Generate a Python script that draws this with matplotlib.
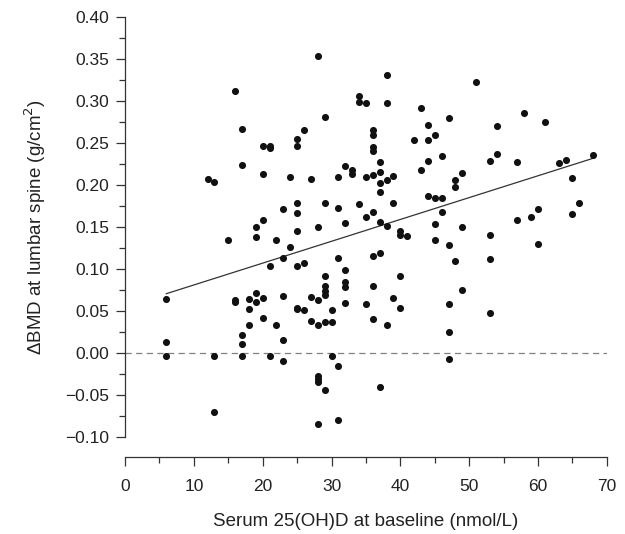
import matplotlib
matplotlib.use("Agg")
import matplotlib.pyplot as plt
import numpy as np
from matplotlib.ticker import MultipleLocator

plt.rcParams.update({
    "font.family": ["Liberation Sans", "DejaVu Sans"],
    "font.size": 12.5,
    "axes.linewidth": 0.9,
    "xtick.direction": "out", "ytick.direction": "out",
})

# serum 25(OH)D at baseline (nmol/L) and change in lumbar spine BMD (g/cm2)
vitd = [
    6, 6, 6,
    12,
    13, 13, 13,
    15,
    16, 16, 16,
    17, 17, 17, 17, 17,
    18, 18, 18,
    19, 19, 19, 19,
    20, 20, 20, 20, 20,
    21, 21, 21, 21,
    22, 22,
    23, 23, 23, 23, 23,
    24, 24,
    25, 25, 25, 25, 25, 25, 25, 25,
    26, 26, 26,
    27, 27, 27,
    28, 28, 28, 28, 28, 28, 28, 28,
    29, 29, 29, 29, 29, 29, 29, 29,
    30, 30, 30,
    31, 31, 31, 31, 31,
    32, 32, 32, 32, 32, 32,
    33, 33,
    34, 34, 34,
    35, 35, 35, 35,
    36, 36, 36, 36, 36, 36, 36, 36, 36,
    37, 37, 37, 37, 37, 37, 37,
    38, 38, 38, 38, 38,
    39, 39, 39,
    40, 40, 40, 40,
    41,
    42,
    43, 43,
    44, 44, 44, 44,
    45, 45, 45, 45,
    46, 46, 46,
    47, 47, 47, 47, 47,
    48, 48, 48,
    49, 49, 49,
    51,
    53, 53, 53, 53,
    54, 54,
    57, 57,
    58,
    59,
    60, 60,
    61,
    63,
    64,
    65, 65,
    66,
    68,
]
dbmd = [
    0.064, 0.013, -0.004,
    0.207,
    0.204, -0.004, -0.070,
    0.135,
    0.312, 0.063, 0.061,
    0.267, 0.224, 0.021, 0.011, -0.004,
    0.064, 0.052, 0.033,
    0.150, 0.138, 0.072, 0.061,
    0.247, 0.213, 0.158, 0.065, 0.042,
    0.247, 0.244, 0.104, -0.004,
    0.135, 0.033,
    0.171, 0.113, 0.068, 0.015, -0.010,
    0.210, 0.126,
    0.255, 0.247, 0.179, 0.167, 0.145, 0.103, 0.054, 0.052,
    0.265, 0.107, 0.051,
    0.207, 0.067, 0.038,
    0.354, 0.150, 0.063, 0.033, -0.027, -0.031, -0.034, -0.084,
    0.281, 0.178, 0.092, 0.080, 0.074, 0.069, 0.037, -0.044,
    0.051, 0.037, -0.004,
    0.210, 0.173, 0.113, -0.015, -0.080,
    0.223, 0.155, 0.099, 0.085, 0.079, 0.060,
    0.218, 0.213,
    0.306, 0.299, 0.177,
    0.298, 0.209, 0.162, 0.058,
    0.265, 0.260, 0.245, 0.241, 0.212, 0.168, 0.116, 0.080, 0.040,
    0.227, 0.215, 0.202, 0.192, 0.156, 0.119, -0.040,
    0.331, 0.298, 0.206, 0.151, 0.033,
    0.211, 0.179, 0.066,
    0.145, 0.140, 0.092, 0.054,
    0.139,
    0.253,
    0.292, 0.218,
    0.272, 0.253, 0.228, 0.187,
    0.260, 0.185, 0.153, 0.135,
    0.235, 0.184, 0.168,
    0.280, 0.128, 0.058, 0.025, -0.007,
    0.206, 0.198, 0.109,
    0.214, 0.150, 0.075,
    0.323,
    0.228, 0.140, 0.112, 0.048,
    0.270, 0.237,
    0.227, 0.158,
    0.286,
    0.162,
    0.172, 0.130,
    0.275,
    0.226,
    0.230,
    0.208, 0.165,
    0.179,
    0.236,
]

# fitted regression line
fit_intercept = 0.055
fit_slope = 0.0026
fit_range = [6, 68]

fig = plt.figure(figsize=(6.25, 5.34), dpi=100)
ax = fig.add_axes([0.2, 0.1816, 0.771, 0.7866])

ax.axhline(0, color="#808080", lw=0.9, ls=(0, (5, 3.5)), zorder=1)
fx = np.array(fit_range, dtype=float)
ax.plot(fx, fit_intercept + fit_slope * fx, color="#333333", lw=0.9, zorder=2)
ax.scatter(vitd, dbmd, s=26, color="#111111", lw=0, zorder=3)

ax.set_xlim(0, 70)
ax.set_ylim(-0.10, 0.40)
ax.xaxis.set_major_locator(MultipleLocator(10))
ax.xaxis.set_minor_locator(MultipleLocator(5))
ax.yaxis.set_major_locator(MultipleLocator(0.05))
ax.yaxis.set_minor_locator(MultipleLocator(0.025))
ax.yaxis.set_major_formatter(lambda v, p: f"{v:.2f}".replace("-", "\u2212"))

for s in ("top", "right"):
    ax.spines[s].set_visible(False)
ax.spines["bottom"].set_position(("outward", 14.4))
ax.spines["left"].set_color("#333333")
ax.spines["bottom"].set_color("#333333")

ax.tick_params(which="major", length=6.5, width=0.9, color="#333333",
               labelcolor="#222222", labelsize=12.5)
ax.tick_params(which="minor", length=4.5, width=0.9, color="#333333")
ax.tick_params(axis="x", pad=9)
ax.tick_params(axis="y", pad=5)

ax.set_xlabel("Serum 25(OH)D at baseline (nmol/L)", fontsize=13.5,
              color="#222222", labelpad=14)
ax.set_ylabel("\u0394BMD at lumbar spine (g/cm$^2$)", fontsize=13.5,
              color="#222222", labelpad=12)

fig.savefig("out.png", dpi=100)
